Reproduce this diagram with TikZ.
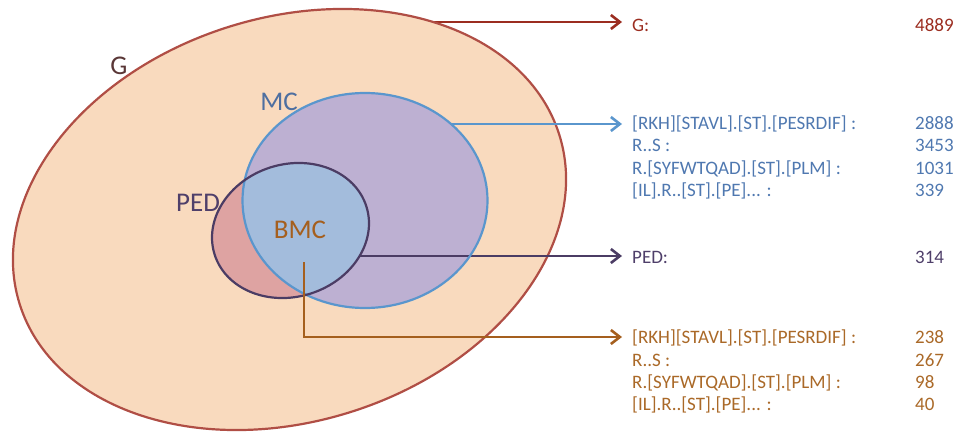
\documentclass[tikz,border=0pt]{standalone}
\usepackage{fontspec}
\setmainfont{Carlito}
\usetikzlibrary{arrows.meta}

% palette
\definecolor{gfill}{HTML}{F9DABE}
\definecolor{grim}{HTML}{B04E45}
\definecolor{gdark}{HTML}{9B2D20}
\definecolor{glabel}{HTML}{5A3737}
\definecolor{mcfill}{HTML}{BDB0D2}
\definecolor{mcrim}{HTML}{5A96CD}
\definecolor{mctext}{HTML}{4F78B0}
\definecolor{mclabel}{HTML}{4E6FA0}
\definecolor{pedfill}{HTML}{DEA3A2}
\definecolor{bothfill}{HTML}{A3BCDC}
\definecolor{pedrim}{HTML}{4B3C64}
\definecolor{pedtext}{HTML}{4F3F6A}
\definecolor{bmcline}{HTML}{A55F1E}
\definecolor{bmctext}{HTML}{AA6928}

\begin{document}
\begin{tikzpicture}[x=1pt,y=1pt,
  setlabel/.style={font=\fontsize{27}{32}\selectfont, inner sep=0},
  item/.style={font=\fontsize{19}{22}\selectfont, anchor=base west, inner sep=0},
  conn/.style={line width=2.6pt, -{Straight Barb[length=9pt,width=14pt]}},
  rim/.style={line width=2.2pt}]
\useasboundingbox (0,0) rectangle (956,432);

% ---- text column ----
\node[item, text=gdark] (g1) at (632,400) {G:};
\node[item, text=gdark] (g1n) at (915,400) {4889};

\foreach \t/\n/\y [count=\i] in {
    {[RKH][STAVL].[ST].[PESRDIF] :}/2888/302,
    {R..S :}/3453/280,
    {R.[SYFWTQAD].[ST].[PLM] :}/1031/258,
    {[IL].R..[ST].[PE]... :}/339/236}{
  \node[item, text=mctext] (mc\i) at (632,\y) {\t};
  \node[item, text=mctext] (mc\i n) at (915,\y) {\n};
}

\node[item, text=pedtext] (p1) at (632,169) {PED:};
\node[item, text=pedtext] (p1n) at (915,169) {314};

\foreach \t/\n/\y [count=\i] in {
    {[RKH][STAVL].[ST].[PESRDIF] :}/238/89,
    {R..S :}/267/66,
    {R.[SYFWTQAD].[ST].[PLM] :}/98/44,
    {[IL].R..[ST].[PE]... :}/40/22}{
  \node[item, text=bmctext] (b\i) at (632,\y) {\t};
  \node[item, text=bmctext] (b\i n) at (915,\y) {\n};
}

% ---- connector start points ----
\coordinate (gfrom) at (425,410);
\coordinate (mcfrom) at (440,308);
\coordinate (pfrom) at (345,176);
\coordinate (bfrom) at (304,170);

% G set and its connector (starts under the fill)
\draw[conn, gdark] (gfrom) -- ([xshift=-10pt]g1.west |- gfrom);
\fill[gfill] (289.5,212.5) ellipse[x radius=282.8, y radius=202, rotate=17.4];
\draw[rim, grim] (289.5,212.5) ellipse[x radius=282.8, y radius=202, rotate=17.4];

% MC set
\draw[conn, mcrim] (mcfrom) -- ([xshift=-10pt]mc1.west |- mcfrom);
\fill[mcfill] (365,231.5) ellipse[x radius=122.5, y radius=107.5];

% PED set
\draw[conn, pedrim] (pfrom) -- ([xshift=-10pt]p1.west |- pfrom);
\fill[pedfill] (290.5,201.5) ellipse[x radius=79.6, y radius=66.2, rotate=17.5];
\begin{scope}
  \clip (365,231.5) ellipse[x radius=122.5, y radius=107.5];
  \fill[bothfill] (290.5,201.5) ellipse[x radius=79.6, y radius=66.2, rotate=17.5];
\end{scope}
\draw[rim, mcrim] (365,231.5) ellipse[x radius=122.5, y radius=107.5];
\draw[rim, pedrim] (290.5,201.5) ellipse[x radius=79.6, y radius=66.2, rotate=17.5];

% BMC connector
\draw[conn, bmcline] (bfrom) |- ([xshift=-10pt]b1.west |- 0,95);

% set names
\node[setlabel, text=glabel] (glab) at (119,366) {G};
\node[setlabel, text=mclabel] (mclab) at (279,330) {MC};
\node[setlabel, text=pedtext] (plab) at (198,229) {PED};
\node[setlabel, text=bmcline] (blab) at (300,202) {BMC};
\end{tikzpicture}
\end{document}
